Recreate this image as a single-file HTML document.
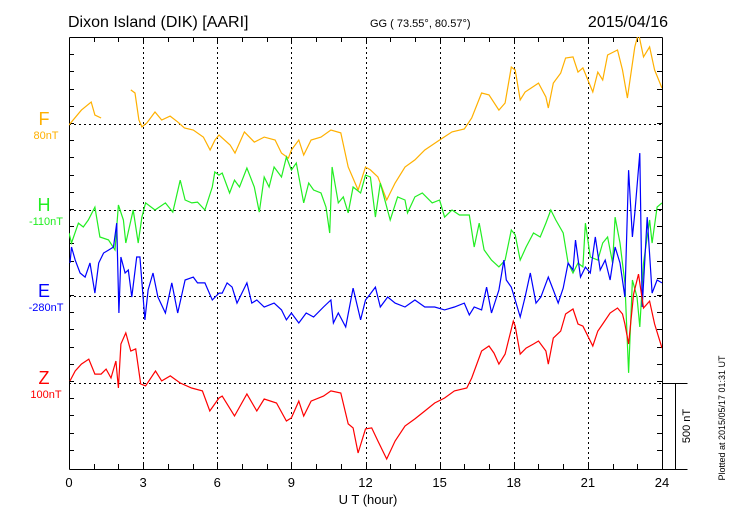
<!DOCTYPE html>
<html><head><meta charset="utf-8"><style>
body{margin:0;background:#fff;}
svg{display:block;font-family:"Liberation Sans",sans-serif;}
</style></head><body>
<svg id="chart" width="730" height="520" viewBox="0 0 730 520" xmlns="http://www.w3.org/2000/svg">
<text x="68" y="27" font-size="16">Dixon Island (DIK)  [AARI]</text>
<text x="370" y="27" font-size="11">GG ( 73.55°,  80.57°)</text>
<text x="668" y="27" font-size="16" text-anchor="end">2015/04/16</text>
<g id="grid"></g>
<g id="axes"></g>
<defs><clipPath id="pc"><rect x="69" y="37" width="593" height="432"/></clipPath></defs>
<g id="series" clip-path="url(#pc)"></g>
<g id="labels"></g>
<text x="368" y="504" font-size="13" text-anchor="middle">U T (hour)</text>
<text transform="translate(690,426) rotate(-90)" font-size="11" text-anchor="middle">500 nT</text>
<text transform="translate(725,418) rotate(-90)" font-size="9" text-anchor="middle">Plotted at 2015/05/17 01:31  UT</text>
</svg>
<script>
const xTicks = [0,3,6,9,12,15,18,21,24];
const seriesNames = ['F','H','E','Z'];
const seriesOffsets = ['80nT','-110nT','-280nT','100nT'];
const fHours = [0,0.5,0.9,1.05,1.3,null,2.5,2.67,2.83,2.95,3.15,3.48,3.75,4.09,4.4,4.67,5.03,5.44,5.71,5.91,6.07,6.52,6.72,7.1,7.5,7.9,8.34,8.6,8.88,9.0,9.3,9.5,9.8,10.2,10.6,11.0,11.3,11.7,12.0,12.2,12.5,12.86,13.2,13.6,14.0,14.4,15.0,15.5,16.0,16.3,16.7,17.0,17.4,17.65,17.9,18.06,18.26,18.46,18.7,19.0,19.3,19.4,19.6,19.9,20.1,20.4,20.6,20.8,21.2,21.4,21.6,21.8,22.2,22.4,22.6,22.9,23.05,23.25,23.5,23.7,24.0];
const fValues = [-6,81,128,52,35,null,198,180,23,-17,6,70,23,46,12,-23,-35,-76,-151,-93,-64,-122,-169,-46,-105,-76,-93,-169,-198,-151,-93,-180,-93,-76,-35,-52,-250,-384,-250,-267,-308,-442,-343,-250,-209,-151,-93,-46,-29,35,180,169,81,122,331,314,140,186,209,238,157,93,238,296,384,390,302,326,186,302,256,401,430,314,151,448,529,390,448,314,209];
const hHours = [0,0.1,0.38,0.58,0.78,1.05,1.25,1.6,1.86,2.0,2.2,2.3,2.6,2.8,2.95,3.1,3.48,3.9,4.2,4.5,4.7,4.97,5.2,5.5,5.8,5.9,6.07,6.2,6.5,6.7,6.9,7.2,7.5,7.7,7.9,8.1,8.3,8.6,8.8,9.0,9.2,9.5,9.7,9.9,10.2,10.4,10.55,10.65,10.9,11.1,11.3,11.5,11.8,12.0,12.2,12.4,12.6,13.0,13.3,13.6,13.7,14.0,14.3,14.7,15.0,15.2,15.5,15.8,16.2,16.4,16.6,16.8,17.1,17.4,17.65,17.9,18.06,18.26,18.5,18.8,19.07,19.3,19.5,19.7,20.0,20.2,20.4,20.6,20.8,20.9,21.1,21.4,21.6,21.8,22.0,22.1,22.3,22.5,22.65,22.8,22.99,23.1,23.25,23.5,23.6,23.8,24.0];
const hValues = [-134,-192,-76,-99,-58,17,-157,-174,-232,29,-58,-192,0,-192,-41,41,0,41,-12,174,58,41,46,0,134,221,203,215,99,174,134,244,134,-12,192,134,250,192,308,232,273,41,157,116,99,17,-134,250,41,76,-17,134,99,203,192,-41,157,-58,76,58,-17,76,99,41,58,-41,0,-29,-29,-215,-76,-232,-291,-331,-291,-116,-145,-291,-215,-134,-157,-76,0,-58,-134,-308,-366,-308,-331,-76,-273,-291,-192,-157,-308,-41,-192,-424,-947,-407,-505,-680,-308,-58,-192,17,41];
const eHours = [0.04,0.1,0.25,0.45,0.65,0.85,1.05,1.2,1.4,1.6,1.8,1.93,2.02,2.1,2.27,2.4,2.54,2.74,2.87,3.0,3.07,3.2,3.4,3.6,3.9,4.16,4.4,4.7,5.03,5.2,5.5,5.8,6.07,6.2,6.4,6.6,6.8,7.2,7.4,7.6,7.9,8.3,8.6,8.8,9.0,9.3,9.6,9.9,10.3,10.6,10.7,10.9,11.2,11.5,11.8,12.0,12.1,12.4,12.6,12.9,13.2,13.6,14.0,14.4,14.8,15.2,15.6,16.0,16.2,16.4,16.7,16.9,17.1,17.4,17.6,17.7,17.9,18.06,18.26,18.46,18.67,18.9,19.1,19.4,19.6,19.8,20.0,20.2,20.4,20.5,20.7,20.9,21.1,21.3,21.5,21.7,21.9,22.1,22.3,22.5,22.65,22.8,22.9,23.1,23.2,23.4,23.6,23.8,24.0];
const eValues = [192,285,209,134,110,192,17,192,250,267,285,424,-99,227,134,151,-6,227,227,-6,-139,35,134,-6,-99,76,-99,93,110,76,76,-23,17,17,76,52,-41,76,-41,-23,-64,-41,-81,-139,-99,-157,-99,-122,-64,-23,-157,-99,-180,46,-139,-23,-6,52,-64,-6,-41,-64,-23,-64,-64,-81,-64,-41,-110,-64,-81,52,-99,35,209,93,52,-23,-122,-6,134,-41,-6,110,35,-41,46,192,151,325,110,168,134,343,151,209,93,285,192,-6,732,343,482,831,-64,459,17,93,76];
const zHours = [0.04,0.25,0.5,0.8,1.05,1.3,1.5,1.7,1.9,2.0,2.1,2.3,2.5,2.7,2.9,3.1,3.5,3.75,4.1,4.5,4.96,5.4,5.7,6.07,6.2,6.7,7.2,7.6,7.9,8.4,8.8,9.0,9.3,9.5,9.8,10.3,10.6,11.0,11.3,11.5,11.7,12.0,12.25,12.5,12.86,13.2,13.6,14.0,14.4,14.8,15.2,15.6,16.1,16.3,16.7,17.0,17.2,17.4,17.65,17.98,18.06,18.26,18.5,18.8,19.0,19.3,19.4,19.6,19.9,20.1,20.4,20.6,20.8,21.2,21.4,21.6,21.9,22.2,22.4,22.5,22.65,22.85,23.05,23.25,23.5,23.7,24.0];
const zValues = [12,70,110,139,52,52,81,29,128,-29,227,291,186,198,-6,-17,70,12,41,0,-29,-46,-163,-87,-76,-192,-64,-163,-93,-116,-221,-203,-105,-192,-105,-76,-46,-58,-238,-261,-407,-267,-261,-337,-442,-337,-250,-209,-163,-116,-87,-46,-29,29,186,215,174,110,168,360,331,168,203,227,244,186,110,261,302,401,430,343,331,215,302,343,407,436,401,343,227,517,633,436,476,343,203];

const X0=69, X1=662, YT=37, YB=469;
const baselines = [124,210,296,383];
const colors = ['#ffb000','#22ee22','#0000ff','#ff0000'];
const pxPerNT = 86/500;
function xScale(h){return X0 + h*(X1-X0)/24;}
function yScale(v,i){return baselines[i] - v*pxPerNT;}
const NS='http://www.w3.org/2000/svg';
function mk(tag,attrs,parent){const e=document.createElementNS(NS,tag);for(const k in attrs)e.setAttribute(k,attrs[k]);parent.appendChild(e);return e;}
const grid=document.getElementById('grid'), axes=document.getElementById('axes'), series=document.getElementById('series'), labels=document.getElementById('labels');
baselines.forEach((b,i)=>{
  const l=mk('line',{x1:X0,x2:X1,y1:b+0.5,y2:b+0.5,stroke:'#000','stroke-width':1,'stroke-dasharray':'2,3'},grid);
  
  
});
xTicks.slice(1,-1).forEach(t=>{
  const x=Math.round(xScale(t))+0.5;
  const l=mk('line',{x1:x,x2:x,y1:YT,y2:YB,stroke:'#000','stroke-width':1,'stroke-dasharray':'2,3'},grid);
  
  
});
[[X0,YT,X0,YB],[X0,YT,X1,YT],[X1,YT,X1,YB],[X0,YB,687,YB],[X1,383,687,383],[675,383,675,YB]].forEach(c=>{
  const l=mk('line',{x1:c[0]+0.5,y1:c[1]+0.5,x2:c[2]+0.5,y2:c[3]+0.5,stroke:'#000','stroke-width':1},axes);
  
  
});
for(let h=1;h<24;h++){
  const x=Math.round(xScale(h))+0.5;
  mk('line',{x1:x,x2:x,y1:YB,y2:YB-5,stroke:'#000'},axes);
  mk('line',{x1:x,x2:x,y1:YT,y2:YT+5,stroke:'#000'},axes);
}
for(let k=1;k<25;k++){
  const y=Math.round(YT+k*86/5)+0.5;
  if(y>YB)break;
  mk('line',{x1:X0,x2:X0+5,y1:y,y2:y,stroke:'#000'},axes);
  mk('line',{x1:X1,x2:X1-5,y1:y,y2:y,stroke:'#000'},axes);
}
xTicks.forEach(t=>{
  const tx=mk('text',{x:xScale(t),y:487,'font-size':13,'text-anchor':'middle'},axes);
  tx.textContent=t;
  
  
});
const hoursArr=[fHours,hHours,eHours,zHours], valArr=[fValues,hValues,eValues,zValues];
hoursArr.forEach((hs,i)=>{
  let d='', pen=false;
  hs.forEach((h,j)=>{
    const v=valArr[i][j];
    if(h===null||v===null){pen=false;return;}
    d+=(pen?'L':'M')+xScale(h).toFixed(1)+','+yScale(v,i).toFixed(1);
    pen=true;
  });
  const p=mk('path',{d:d,fill:'none',stroke:colors[i],'stroke-width':1.2},series);
  
  
  const n=mk('text',{x:44,y:baselines[i]+1,'font-size':18,'text-anchor':'middle',fill:colors[i]},labels);
  n.textContent=seriesNames[i];
  
  
  const o=mk('text',{x:46,y:baselines[i]+15,'font-size':11,'text-anchor':'middle',fill:colors[i]},labels);
  o.textContent=seriesOffsets[i];
  
  
});
</script>
</body></html>
